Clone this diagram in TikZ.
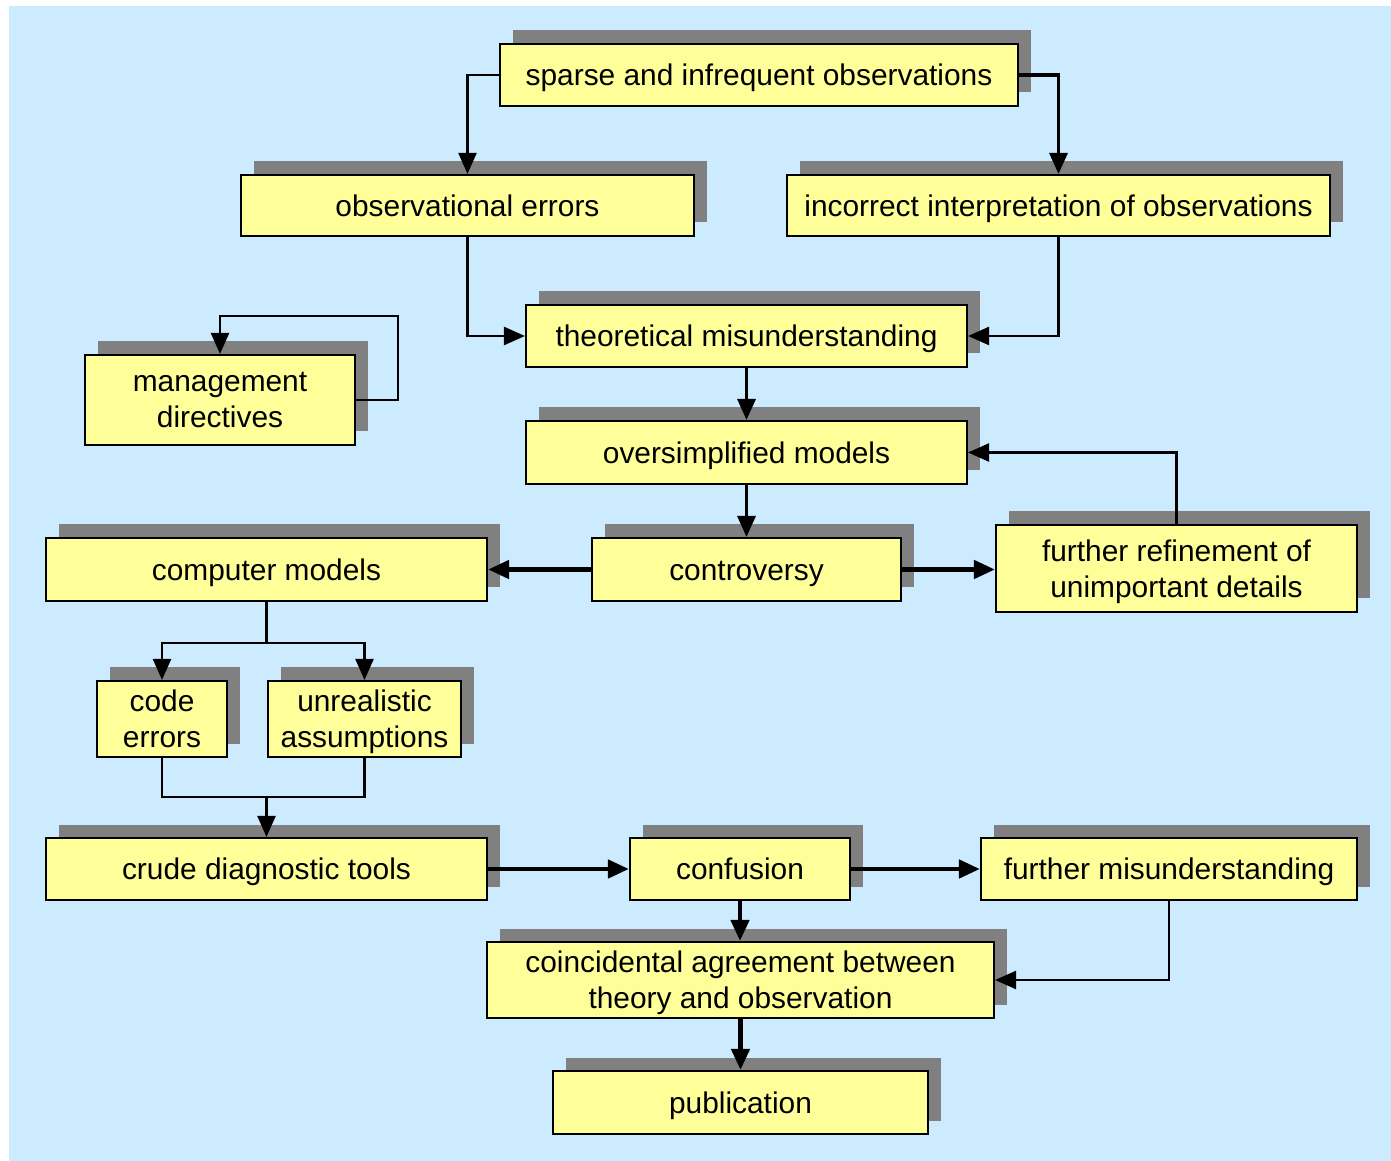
\documentclass[tikz,border=0pt]{standalone}
\usepackage{fontspec}
\setmainfont{Liberation Sans}
\usetikzlibrary{arrows.meta,shadows}

\definecolor{skyback}{HTML}{CCEBFF}
\definecolor{boxfill}{HTML}{FFFF99}
\definecolor{shadowgray}{HTML}{808080}

\begin{document}
\begin{tikzpicture}[
    block/.style={draw=black, line width=1.2pt, fill=boxfill, inner sep=2pt,
        align=center, font=\fontsize{17}{20.4}\selectfont, text depth=0pt,
        general shadow={fill=shadowgray, shadow xshift=0.26cm, shadow yshift=0.27cm}},
    oneline/.style={block, text height=14pt, text depth=2pt},
    link/.style={line width=1.4pt, -{Triangle[length=0.42cm, width=0.36cm]}},
    midlink/.style={link, line width=1.9pt},
    boldlink/.style={link, line width=2.6pt}
]
    % Background panel
    \useasboundingbox (0,0) rectangle (27.82,-23.22);
    \fill[white] (0,0) rectangle (27.82,-23.22);
    \fill[skyback] (0.18,-0.12) rectangle (27.82,-23.22);

    % Boxes (top to bottom)
    \node[oneline, minimum width=10.36cm, minimum height=1.24cm] (sparse) at (15.18,-1.5) {sparse and infrequent observations};
    \node[oneline, minimum width=9.06cm, minimum height=1.22cm] (obserr) at (9.35,-4.11) {observational errors};
    \node[oneline, minimum width=10.86cm, minimum height=1.22cm] (interp) at (21.17,-4.11) {incorrect interpretation of observations};
    \node[oneline, minimum width=8.82cm, minimum height=1.24cm] (theory) at (14.93,-6.72) {theoretical misunderstanding};
    \node[block, minimum width=5.40cm, minimum height=1.80cm] (mgmt) at (4.40,-8.00) {management\\directives};
    \node[oneline, minimum width=8.82cm, minimum height=1.26cm] (simple) at (14.93,-9.05) {oversimplified models};
    \node[oneline, minimum width=8.82cm, minimum height=1.26cm] (models) at (5.33,-11.39) {computer models};
    \node[oneline, minimum width=6.18cm, minimum height=1.26cm] (debate) at (14.93,-11.39) {controversy};
    \node[block, minimum width=7.22cm, minimum height=1.74cm] (refine) at (23.53,-11.37) {further refinement of\\unimportant details};
    \node[block, minimum width=2.60cm, minimum height=1.52cm] (codeerr) at (3.24,-14.38) {code\\errors};
    \node[block, minimum width=3.86cm, minimum height=1.52cm] (assume) at (7.29,-14.38) {unrealistic\\assumptions};
    \node[oneline, minimum width=8.82cm, minimum height=1.24cm] (tools) at (5.33,-17.38) {crude diagnostic tools};
    \node[oneline, minimum width=4.40cm, minimum height=1.24cm] (confusion) at (14.80,-17.38) {confusion};
    \node[oneline, minimum width=7.52cm, minimum height=1.24cm] (misund) at (23.38,-17.38) {further misunderstanding};
    \node[block, minimum width=10.14cm, minimum height=1.52cm] (agree) at (14.81,-19.60) {coincidental agreement between\\theory and observation};
    \node[oneline, minimum width=7.50cm, minimum height=1.26cm] (publ) at (14.81,-22.05) {publication};

    % Branch points
    \coordinate (split) at ([yshift=-0.82cm]models.south);
    \coordinate (join) at ([yshift=0.80cm]tools.north);

    % Upper part
    \draw[link] (sparse.west) -| (obserr.north);
    \draw[midlink] (sparse.east) -| (interp.north);
    \draw[link] (obserr.south) |- (theory.west);
    \draw[link] (interp.south) |- (theory.east);
    \draw[midlink] (theory.south) -- (simple.north);
    \draw[link] (mgmt.east) -- ++(0.84,0) |- ([yshift=0.76cm]mgmt.north) -- (mgmt.north); % loops back on itself
    \draw[midlink] (simple.south) -- (debate.north);
    \draw[link] (refine.north) |- (simple.east);

    % Middle part
    \draw[boldlink] (debate.west) -- (models.east);
    \draw[boldlink] (debate.east) -- (debate.east -| refine.west);
    \draw[line width=1.4pt] (models.south) -- (split);
    \foreach \target in {codeerr, assume} {
        \draw[link] (split) -| (\target.north);
        \draw[line width=1.4pt] (\target.south) |- (join);
    }
    \draw[link] (join) -- (tools.north);

    % Lower part
    \draw[boldlink] (tools.east) -- (confusion.west);
    \draw[boldlink] (confusion.east) -- (misund.west);
    \draw[boldlink] (confusion.south) -- (confusion.south |- agree.north);
    \draw[link] (misund.south) |- (agree.east);
    \draw[boldlink] (agree.south) -- (publ.north);
\end{tikzpicture}
\end{document}
